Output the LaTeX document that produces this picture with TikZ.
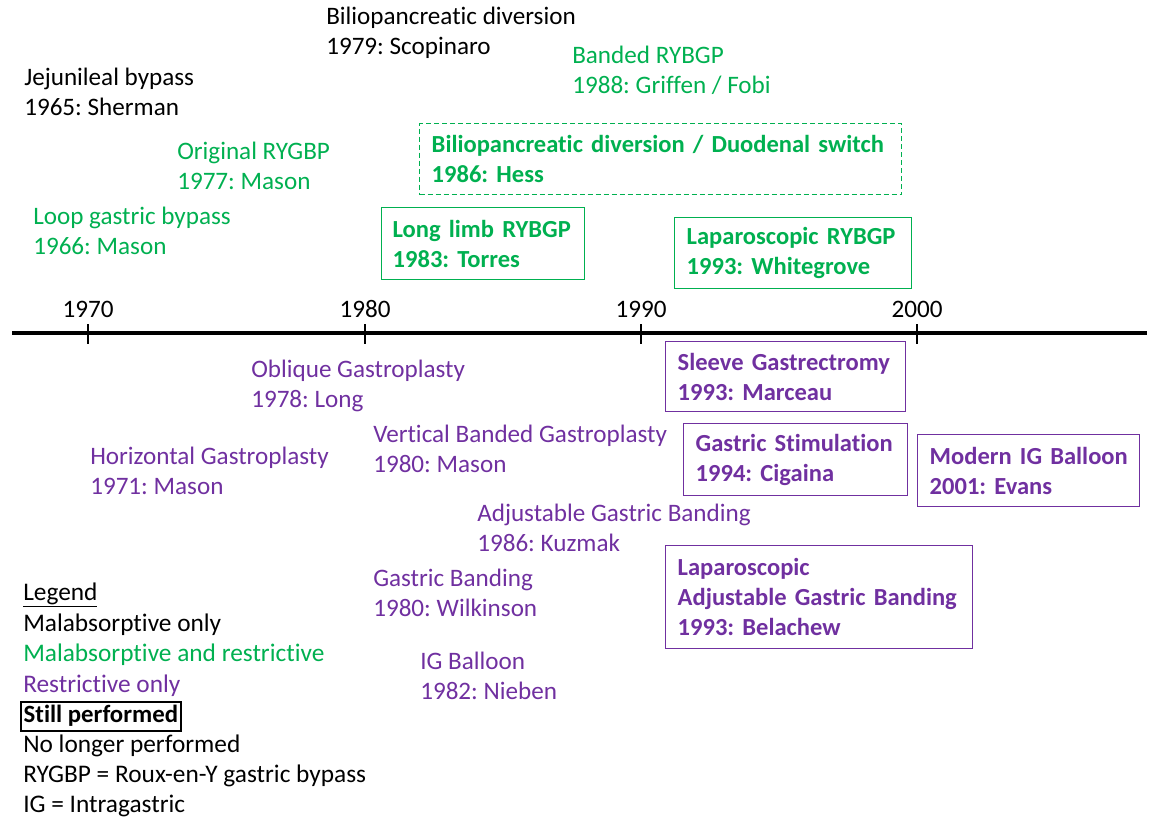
\documentclass[tikz,border=0pt]{standalone}
\usepackage{fontspec}
\setmainfont{Carlito}[Ligatures=NoCommon]
\frenchspacing
\definecolor{mgreen}{HTML}{00B050}
\definecolor{mpurple}{HTML}{7030A0}
\newcommand{\ml}[1]{\mbox{#1}}
\begin{document}
\begin{tikzpicture}[x=0.75pt,y=-0.75pt,
  every node/.style={font=\fontsize{18.85}{22.5}\selectfont},
  txt/.style={anchor=west,inner sep=0pt,align=left},
  lgd/.style={anchor=west,inner sep=0pt,align=left,font=\fontsize{19}{22.5}\selectfont},
  bx/.style={draw,line width=1.1pt,anchor=north west,align=left,inner ysep=0pt,font=\fontsize{18.4}{22.5}\selectfont\bfseries},
  yr/.style={inner sep=0pt,anchor=center},
  tick/.style={line width=1.1pt}]
\useasboundingbox (0,0) rectangle (1149,820);
% axis
\coordinate (aL) at (12,333);
\coordinate (aR) at (1147,333);
\draw[line width=3pt] (aL) -- (aR);
\foreach \x/\y in {88/1970,365/1980,641/1990,917/2000}{
  \coordinate (t\y a) at (\x,324);
  \coordinate (t\y b) at (\x,344);
  \draw[tick] (t\y a) -- (t\y b);
  \node[yr] (y\y) at (\x,309) {\y};
}
% above axis
\node[txt] (jej) at (24,92) {Jejunileal bypass\\1965: Sherman};
\node[txt] (bpd) at (326,33) {Biliopancreatic diversion\\1979: Scopinaro};
\node[txt,text=mgreen] (brygbp) at (572,70.5) {Banded RYBGP\\1988: Griffen / Fobi};
\node[txt,text=mgreen] (orig) at (177,165.5) {Original RYGBP\\1977: Mason};
\node[txt,text=mgreen] (loop) at (33,231) {Loop gastric bypass\\1966: Mason};
\node[bx,draw=mgreen,text=mgreen,dash pattern=on 3.75pt off 2.25pt,inner xsep=9pt,text width=343.5pt,minimum height=53.25pt] (ds) at (419,123) {\ml{Biliopancreatic diversion / Duodenal switch}\\\ml{1986: Hess}};
\node[bx,draw=mgreen,text=mgreen,inner xsep=8.25pt,text width=135.75pt,minimum height=54pt] (llimb) at (381,207) {\ml{Long limb RYBGP}\\\ml{1983: Torres}};
\node[bx,draw=mgreen,text=mgreen,inner xsep=9pt,text width=159.75pt,minimum height=53.25pt] (lrygbp) at (674,217) {\ml{Laparoscopic RYBGP}\\\ml{1993: Whitegrove}};
% below axis
\node[bx,draw=mpurple,text=mpurple,inner xsep=9pt,text width=162pt,minimum height=52.5pt] (sleeve) at (665,341) {\ml{Sleeve Gastrectromy}\\\ml{1993: Marceau}};
\node[txt,text=mpurple] (obl) at (251,386) {Oblique Gastroplasty\\1978: Long};
\node[txt,text=mpurple] (vbg) at (373,449) {Vertical Banded Gastroplasty\\1980: Mason};
\node[txt,text=mpurple] (hor) at (90,471) {Horizontal Gastroplasty\\1971: Mason};
\node[bx,draw=mpurple,text=mpurple,inner xsep=9pt,text width=150pt,minimum height=54pt] (stim) at (683,423) {\ml{Gastric Stimulation}\\\ml{1994: Cigaina}};
\node[bx,draw=mpurple,text=mpurple,inner xsep=9pt,text width=148.5pt,minimum height=54pt] (migb) at (917,434) {\ml{Modern IG Balloon}\\\ml{2001: Evans}};
\node[txt,text=mpurple] (agb) at (477,528) {Adjustable Gastric Banding\\1986: Kuzmak};
\node[bx,draw=mpurple,text=mpurple,inner xsep=9pt,text width=212.25pt,minimum height=77.25pt] (lagb) at (665,545) {\ml{Laparoscopic}\\\ml{Adjustable Gastric Banding}\\\ml{1993: Belachew}};
\node[txt,text=mpurple] (gb) at (373,593) {Gastric Banding\\1980: Wilkinson};
\node[txt,text=mpurple] (igb) at (420,676) {IG Balloon\\1982: Nieben};
% legend
\node[lgd] (lg) at (23,595) {\underline{Legend}};
\node[lgd] (l1) at (23,625) {Malabsorptive only};
\node[lgd,text=mgreen] (l2) at (23,655) {Malabsorptive and restrictive};
\node[lgd,text=mpurple] (l3) at (23,686) {Restrictive only};
\node[draw,line width=1.5pt,anchor=west,inner xsep=2pt,inner ysep=0pt,minimum height=21.75pt,font=\fontsize{18.6}{22.5}\selectfont\bfseries] (l4) at (20,716) {Still performed};
\node[lgd] (l5) at (23,746) {No longer performed};
\node[lgd] (l6) at (23,776) {RYGBP = Roux-en-Y gastric bypass};
\node[lgd] (l7) at (23,806) {IG = Intragastric};
\end{tikzpicture}
\end{document}
